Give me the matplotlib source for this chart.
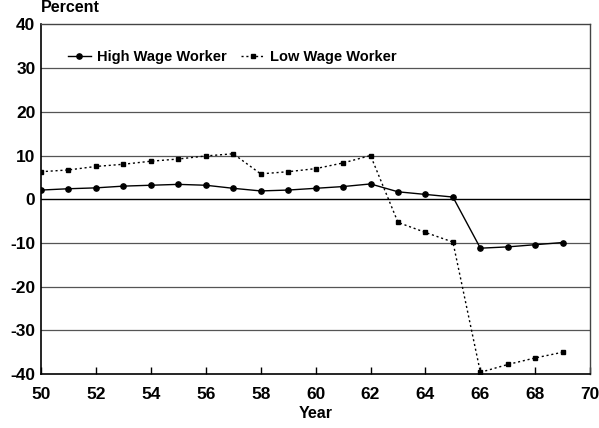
import matplotlib.pyplot as plt

years = list(range(50, 70))
high_wage = [2.1, 2.4, 2.6, 3.0, 3.2, 3.4, 3.2, 2.5, 1.9, 2.1,
             2.5, 2.9, 3.5, 1.7, 1.1, 0.5, -11.2, -10.9, -10.4, -9.9]
low_wage = [6.3, 6.7, 7.5, 8.0, 8.7, 9.2, 9.9, 10.4, 5.8, 6.3,
            7.0, 8.3, 10.0, -5.3, -7.6, -9.8, -39.6, -37.8, -36.3, -35.0]
x_ticks = list(range(50, 72, 2))
y_ticks = list(range(-40, 50, 10))

plt.rcParams["font.family"] = ["Liberation Sans", "DejaVu Sans"]
plt.rcParams["font.weight"] = "bold"

fig = plt.figure(figsize=(5.99, 4.28), dpi=100)
ax = fig.add_axes([0.0684, 0.126, 0.917, 0.817])

for y in y_ticks[1:-1]:
    if y == 0:
        ax.axhline(y, color="black", lw=1.0, zorder=1)
    else:
        ax.axhline(y, color="#555555", lw=0.9, zorder=1)

ax.plot(years, high_wage, color="black", lw=1.0, marker="o", ms=3.8,
        label="High Wage Worker", zorder=3)
ax.plot(years, low_wage, color="black", lw=1.0, ls=(0, (1.5, 2)), marker="s",
        ms=3.3, label="Low Wage Worker", zorder=3)

ax.set_xlim(50, 70)
ax.set_ylim(-40, 40)
ax.set_xticks(x_ticks)
ax.set_yticks(y_ticks)
ax.set_xticklabels([str(t) for t in x_ticks], fontsize=12.5, fontweight="bold")
ax.set_yticklabels([str(t) for t in y_ticks], fontsize=12.5, fontweight="bold")
ax.tick_params(axis="x", direction="in", length=5, width=1, pad=9)
ax.tick_params(axis="y", length=0, pad=4)

for side in ["left", "bottom"]:
    ax.spines[side].set_color("black")
    ax.spines[side].set_linewidth(1.2)
for side in ["top", "right"]:
    ax.spines[side].set_color("#444444")
    ax.spines[side].set_linewidth(1.0)

ax.set_xlabel("Year", fontsize=11.5, fontweight="bold", labelpad=3)
fig.text(0.068, 0.965, "Percent", fontsize=11.5, fontweight="bold", ha="left", va="bottom")

leg = ax.legend(loc="upper left", bbox_to_anchor=(0.025, 0.965), ncol=2, frameon=False,
                fontsize=10.5, handlelength=1.6, columnspacing=1.0, handletextpad=0.4)
for t in leg.get_texts():
    t.set_fontweight("bold")

fig.savefig("out.png", dpi=100)
